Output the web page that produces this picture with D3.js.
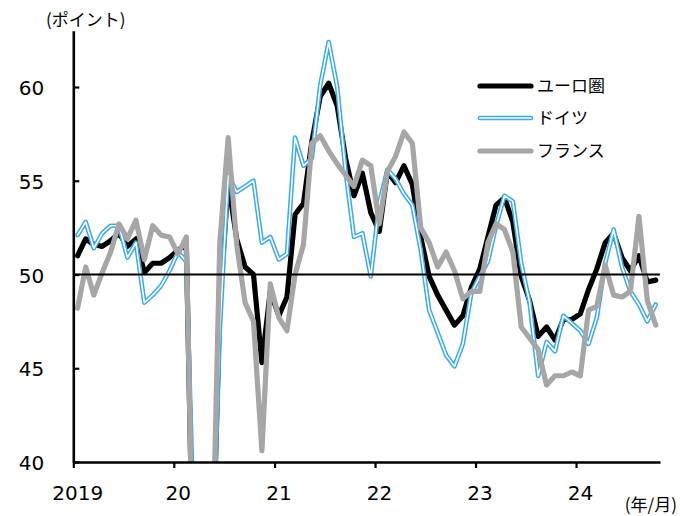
<!DOCTYPE html>
<html>
<head>
<meta charset="utf-8">
<script src="https://cdn.jsdelivr.net/npm/d3@7"></script>
<style>
  body { margin: 0; background: #fff; }
  svg { display: block; }
  .num { font-family: "DejaVu Sans", Verdana, sans-serif; font-size: 20px; fill: #000; }
  .jp { font-family: "Noto Sans CJK JP", sans-serif; font-size: 17px; fill: #000; }
</style>
</head>
<body>
<svg id="chart" width="680" height="516"></svg>
<script>
// Composite PMI, monthly, Jan 2019 - Oct 2024
const startYear = 2019;
const monthCount = 70;

const euroArea = [
  51.0, 51.9, 51.6, 51.5, 51.8, 52.2, 51.5, 51.9, 50.1, 50.6, 50.6, 50.9,
  51.3, 51.6, 29.7, 13.6, 31.9, 48.5, 54.9, 51.9, 50.4, 50.0, 45.3, 49.1,
  47.8, 48.8, 53.2, 53.8, 57.1, 59.5, 60.2, 59.0, 56.2, 54.2, 55.4, 53.3,
  52.3, 55.5, 54.9, 55.8, 54.8, 52.0, 49.9, 48.9, 48.1, 47.3, 47.8, 49.3,
  50.3, 52.0, 53.7, 54.1, 52.8, 49.9, 48.6, 46.7, 47.2, 46.5, 47.6, 47.6,
  47.9, 49.2, 50.3, 51.7, 52.2, 50.9, 50.2, 51.0, 49.6, 49.7
];
const germany = [
  52.1, 52.8, 51.4, 52.2, 52.6, 52.6, 50.9, 51.7, 48.5, 48.9, 49.4, 50.2,
  51.2, 50.7, 35.0, 17.4, 32.3, 47.0, 55.3, 54.4, 54.7, 55.0, 51.7, 52.0,
  50.8, 51.1, 57.3, 55.8, 56.2, 60.1, 62.4, 60.0, 55.5, 52.0, 52.2, 49.9,
  53.8, 55.6, 55.1, 54.3, 53.7, 51.3, 48.1, 46.9, 45.7, 45.1, 46.3, 49.0,
  49.9, 50.7, 52.6, 54.2, 53.9, 50.6, 48.5, 44.6, 46.4, 45.9, 47.8, 47.4,
  47.0, 46.3, 47.7, 50.6, 52.4, 50.4, 49.1, 48.4, 47.5, 48.4
];
const france = [
  48.2, 50.4, 48.9, 50.1, 51.2, 52.7, 51.9, 52.9, 50.8, 52.6, 52.1, 52.0,
  51.1, 52.0, 28.9, 11.1, 32.1, 51.7, 57.3, 51.6, 48.5, 47.5, 40.6, 49.5,
  47.7, 47.0, 50.0, 51.6, 57.0, 57.4, 56.6, 55.9, 55.3, 54.7, 56.1, 55.8,
  52.7, 55.5, 56.3, 57.6, 57.0, 52.5, 51.7, 50.4, 51.2, 50.2, 48.7, 49.1,
  49.1, 51.7, 52.7, 52.4, 51.2, 47.2, 46.6, 46.0, 44.1, 44.6, 44.6, 44.8,
  44.6, 48.1, 48.3, 50.5, 48.9, 48.8, 49.1, 53.1, 48.6, 47.3
];

const seriesNames = ["ユーロ圏", "ドイツ", "フランス"];
const yearLabels = ["2019", "20", "21", "22", "23", "24"];
const yTicks = [40, 45, 50, 55, 60];
const referenceLevel = 50;

const svg = d3.select("#chart");

const left = 73.3, right = 660, bottom = 462;
const x = d3.scaleTime()
  .domain([new Date(startYear, 0, 1), new Date(startYear, monthCount, 1)])
  .range([left, right]);
const y = d3.scaleLinear().domain([40, 63]).range([bottom, 30.75]);

// each value sits in the middle of its month
const monthMid = i => (x(new Date(startYear, i, 1)) + x(new Date(startYear, i + 1, 1))) / 2;

svg.append("defs").append("clipPath").attr("id", "plot")
  .append("rect").attr("x", left).attr("y", 0)
  .attr("width", right - left).attr("height", bottom);

const line = d3.line().x((d, i) => monthMid(i)).y(d => y(d));

const g = svg.append("g").attr("clip-path", "url(#plot)");

const black = "#000000", blue = "#3aaaf0", grey = "#a6a6a6";

g.append("path").datum(euroArea).attr("d", line)
  .attr("fill", "none").attr("stroke", black).attr("stroke-width", 5.2)
  .attr("stroke-linejoin", "round").attr("stroke-linecap", "round");

// Germany: double line (blue outline with white core)
g.append("path").datum(germany).attr("d", line)
  .attr("fill", "none").attr("stroke", blue).attr("stroke-width", 4.6)
  .attr("stroke-linejoin", "round").attr("stroke-linecap", "round");
g.append("path").datum(germany).attr("d", line)
  .attr("fill", "none").attr("stroke", "#fff").attr("stroke-width", 1.6)
  .attr("stroke-linejoin", "round").attr("stroke-linecap", "round");

g.append("path").datum(france).attr("d", line)
  .attr("fill", "none").attr("stroke", grey).attr("stroke-width", 5.2)
  .attr("stroke-linejoin", "round").attr("stroke-linecap", "round");

// 50 reference line
svg.append("line")
  .attr("x1", left).attr("x2", right)
  .attr("y1", y(referenceLevel)).attr("y2", y(referenceLevel))
  .attr("stroke", "#000").attr("stroke-width", 2.2);

// Y axis
const yAxis = svg.append("g").attr("transform", `translate(${left},0)`)
  .call(d3.axisLeft(y).tickValues(yTicks).tickSizeInner(-6).tickSizeOuter(0).tickPadding(29));
yAxis.select(".domain").attr("stroke-width", 2.6);
yAxis.selectAll(".tick line").attr("stroke-width", 2.2);
yAxis.selectAll(".tick text").attr("class", "num").attr("font-family", null).attr("font-size", null)
  .attr("dy", "0.38em");

// X axis
const yearTicks = yearLabels.map((_, i) => new Date(startYear + i, 0, 1));
const xAxis = svg.append("g").attr("transform", `translate(0,${bottom})`)
  .call(d3.axisBottom(x).tickValues(yearTicks).tickSizeInner(6).tickSizeOuter(0).tickPadding(18)
    .tickFormat((d, i) => yearLabels[i]));
xAxis.select(".domain").attr("stroke-width", 2.6);
xAxis.selectAll(".tick line").attr("stroke-width", 2.2);
xAxis.selectAll(".tick text").attr("class", "num").attr("font-family", null).attr("font-size", null)
  .attr("dx", 4);

// Unit labels
svg.append("text").attr("class", "jp").attr("x", 46).attr("y", 26).text("(ポイント)");
svg.append("text").attr("class", "jp").attr("x", 677).attr("y", 511)
  .attr("text-anchor", "end").text("(年/月)");

// Legend
const legend = svg.append("g");
const legendRows = [86, 118, 151];
seriesNames.forEach((name, i) => {
  const ly = legendRows[i];
  const seg = [[480, ly], [531, ly]];
  const lp = d3.line();
  if (i === 1) {
    legend.append("path").attr("d", lp(seg)).attr("stroke", blue).attr("stroke-width", 4.6)
      .attr("stroke-linecap", "round");
    legend.append("path").attr("d", lp(seg)).attr("stroke", "#fff").attr("stroke-width", 1.6)
      .attr("stroke-linecap", "round");
  } else {
    legend.append("path").attr("d", lp(seg)).attr("stroke", i === 0 ? black : grey)
      .attr("stroke-width", 5.2).attr("stroke-linecap", "round");
  }
  legend.append("text").attr("class", "jp").attr("x", 537).attr("y", ly)
    .attr("dy", "0.36em").text(name);
});
</script>
</body>
</html>
